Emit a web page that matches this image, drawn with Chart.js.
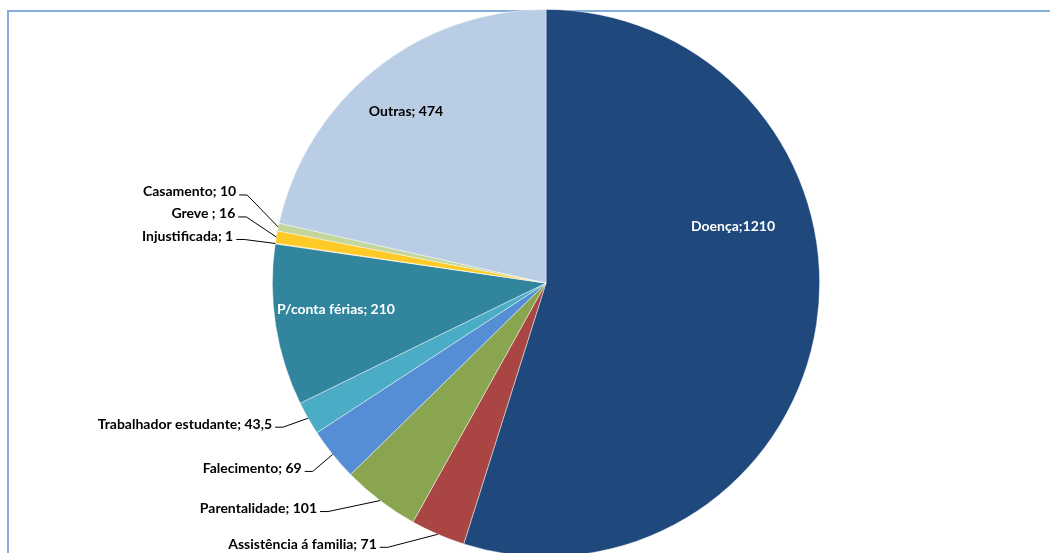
<!DOCTYPE html>
<html>
<head>
<meta charset="utf-8">
<script src="https://cdn.jsdelivr.net/npm/chart.js@4/dist/chart.umd.min.js"></script>
<style>
    html, body { margin: 0; padding: 0; background: #fff; overflow: hidden; }
    #wrap { position: relative; width: 1050px; height: 553px; overflow: hidden; }
    #frame {
        position: absolute; left: 7px; top: 10px; width: 2000px; height: 2000px;
        border-left: 2px solid #86AEDD; border-top: 2px solid #86AEDD;
    }
    #pieChart { position: absolute; left: 0; top: 0; }
</style>
</head>
<body>
<div id="wrap">
    <div id="frame"></div>
    <canvas id="pieChart" width="1092" height="566"></canvas>
</div>
<script>
// Absence days by reason
const categories = [
    'Doença', 'Assistência á familia', 'Parentalidade', 'Falecimento',
    'Trabalhador estudante', 'P/conta férias', 'Injustificada', 'Greve ',
    'Casamento', 'Outras'
];
const values = [1210, 71, 101, 69, 43.5, 210, 1, 16, 10, 474];

const sliceColors = [
    '#1F497D', '#A94643', '#8AA54F', '#558ED5', '#4BACC6',
    '#31859C', '#F0B91E', '#FFC926', '#C3D69B', '#B9CDE5'
];

/**
 * Label placement per slice.
 * inside: text centre offset from the pie centre.
 * outside: elbow offset from the slice's outer midpoint, text sits left of it.
 */
const labelLayout = [
    { inside: [187, -57], color: '#fff' },
    { outside: [-50, 13] },
    { outside: [-52, 11] },
    { outside: [-20, 17] },
    { outside: [-25, 9] },
    { inside: [-210, 26], color: '#fff' },
    { outside: [-31, -4] },
    { outside: [-30, -20] },
    { outside: [-31, -32] },
    { inside: [-140, -172], color: '#000' }
];

function formatLabel(i) {
    const sep = i === 0 ? ';' : '; ';
    return categories[i] + sep + String(values[i]).replace('.', ',');
}

// Draws the value labels and leader lines
const pieLabels = {
    id: 'pieLabels',
    afterDatasetsDraw(chart) {
        const ctx = chart.ctx;
        const meta = chart.getDatasetMeta(0);
        ctx.save();
        ctx.font = 'bold 14px Lato, "Noto Sans", sans-serif';
        ctx.textBaseline = 'middle';
        meta.data.forEach((arc, i) => {
            const lay = labelLayout[i];
            const text = formatLabel(i);
            if (lay.inside) {
                ctx.fillStyle = lay.color;
                ctx.textAlign = 'center';
                ctx.fillText(text, arc.x + lay.inside[0], arc.y + lay.inside[1]);
                return;
            }
            const mid = (arc.startAngle + arc.endAngle) / 2;
            const ax = arc.x + Math.cos(mid) * arc.outerRadius;
            const ay = arc.y + Math.sin(mid) * arc.outerRadius;
            const ex = ax + lay.outside[0];
            const ey = ay + lay.outside[1];
            ctx.strokeStyle = '#000';
            ctx.lineWidth = 1;
            ctx.beginPath();
            ctx.moveTo(ex - 8, ey);
            ctx.lineTo(ex, ey);
            ctx.lineTo(ax, ay);
            ctx.stroke();
            ctx.fillStyle = '#000';
            ctx.textAlign = 'right';
            ctx.fillText(text, ex - 11, ey - 3);
        });
        ctx.restore();
    }
};

const ctx = document.getElementById('pieChart');
new Chart(ctx, {
    type: 'pie',
    data: {
        labels: categories,
        datasets: [{
            data: values,
            backgroundColor: sliceColors,
            borderColor: 'rgba(255, 255, 255, 0.6)',
            borderWidth: 0.75
        }]
    },
    options: {
        responsive: false,
        animation: false,
        layout: { padding: 9 },
        plugins: {
            legend: { display: false },
            tooltip: { enabled: false }
        }
    },
    plugins: [pieLabels]
});
</script>
</body>
</html>
